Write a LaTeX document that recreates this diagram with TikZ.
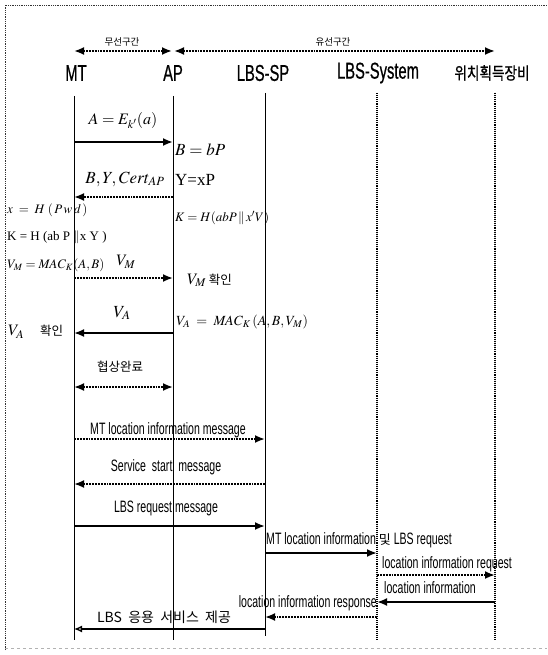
\documentclass[tikz,border=0pt]{standalone}
\usepackage{mathptmx}
\usepackage{fontspec}
\setmainfont{Liberation Serif}
\newfontfamily\cond[FakeStretch=0.64]{Liberation Sans}
\newfontfamily\condb[FakeStretch=0.64,FakeBold=0.6]{Liberation Sans}
\newfontfamily\kor{Noto Sans CJK KR}
\newfontfamily\korc[FakeStretch=0.8,FakeBold=0.8]{Noto Sans CJK KR}
\usetikzlibrary{arrows.meta}
\tikzset{
  hdr/.style={font=\fontsize{23}{24}\condb, inner sep=0pt},
  hdrk/.style={font=\fontsize{17}{18}\korc, inner sep=0pt},
  zone/.style={font=\fontsize{9.5}{10}\kor, inner sep=0pt},
  msg/.style={font=\fontsize{16.5}{18}\cond, inner sep=0pt},
  eq/.style={font=\fontsize{16}{18}\selectfont, inner sep=0pt},
  kr/.style={font=\fontsize{12.5}{14}\kor, inner sep=0pt},
  life/.style={line width=1pt},
  lifedot/.style={line width=1.1pt, densely dotted},
  tipA/.tip={Latex[length=10pt,width=8pt]},
  solidmsg/.style={line width=1.9pt, -tipA},
  dotmsg/.style={line width=1.9pt, densely dotted, -tipA},
  thinmsg/.style={line width=1.2pt, -{Latex[length=8pt,width=7pt,open,line width=1.3pt]}},
  zonearr/.style={line width=1.9pt, densely dotted, tipA-tipA},
  frameln/.style={line width=0.8pt, densely dotted, black!80},
}
\begin{document}
\begin{tikzpicture}[x=1pt,y=-1pt]
\useasboundingbox (0,0) rectangle (547,655);

% outer frame
\coordinate (f1) at (5,650);
\coordinate (f2) at (5,5);
\coordinate (f3) at (547,5);
\coordinate (f4) at (547,648);
\coordinate (f5) at (5,648);
\draw[frameln] (f1) -- (f2) -- (f3);
\draw[line width=0.8pt, dashed, black!30] (f5) -- (f4);

% lifeline heads
\coordinate (MT)  at (74,96);
\coordinate (AP)  at (173,96);
\coordinate (SP)  at (265,93);
\coordinate (SYS) at (377,93);
\coordinate (LOC) at (495,93);
\coordinate (MTe)  at (74,640);
\coordinate (APe)  at (173,640);
\coordinate (SPe)  at (265,636);
\coordinate (SYSe) at (377,640);
\coordinate (LOCe) at (495,640);

\draw[life] (MT) -- (MTe);
\draw[life] (AP) -- (APe);
\draw[life] (SP) -- (SPe);
\draw[lifedot] (SYS) -- (SYSe);
\draw[lifedot] (LOC) -- (LOCe);

% participant names
\node[hdr]  (hMT)  at (76,73)  {MT};
\node[hdr]  (hAP)  at (173,73) {AP};
\node[hdr]  (hSP)  at (263,73) {LBS-SP};
\node[hdr]  (hSYS) at (378,73) {LBS-System};
\node[hdrk] (hLOC) at (492,73) {위치획득장비};

% wireless / wired sections
\coordinate (zw1) at (74,51);
\coordinate (zw2) at (172,51);
\coordinate (zc1) at (174,51);
\coordinate (zc2) at (495,51);
\draw[zonearr] (zw1) -- (zw2);
\draw[zonearr] (zc1) -- (zc2);
\node[zone] (zwl) at (122,42) {무선구간};
\node[zone] (zcl) at (333,42) {유선구간};

% message rows
\coordinate (r1)  at (0,142);
\coordinate (r2)  at (0,197);
\coordinate (r3)  at (0,278);
\coordinate (r4)  at (0,333);
\coordinate (r5)  at (0,387);
\coordinate (r6)  at (0,439);
\coordinate (r7)  at (0,484);
\coordinate (r8)  at (0,526);
\coordinate (r9)  at (0,553);
\coordinate (r10) at (0,575);
\coordinate (r11) at (0,602);
\coordinate (r12) at (0,617);
\coordinate (r13) at (0,629);

% key agreement between MT and AP
\node[eq] (m1) at (123,121) {$A = E_{k'}(a)$};
\draw[solidmsg] (MT |- r1) -- (AP |- r1);
\node[eq, anchor=west, font=\fontsize{17}{18}\selectfont] (bP) at (175,150) {$B = bP$};

\node[eq, font=\fontsize{17}{18}\selectfont] (m2) at (125,179) {$B, Y, \mathit{Cert}_{\mathit{AP}}$};
\node[eq, anchor=west, font=\fontsize{17}{18}\selectfont] (yP) at (175,180) {Y=xP};
\draw[dotmsg] (AP |- r2) -- (MT |- r2);
\node[eq, anchor=west, font=\fontsize{13}{14}\selectfont] (kAP) at (175,218) {$K = H(abP\,\|\,x'V)$};
\node[eq, anchor=west, font=\fontsize{13}{14}\selectfont] (xPw) at (7,210) {$x\;=\;H\;(\,P\,w\,d\,)$};
\node[eq, anchor=west, font=\fontsize{13}{14}\selectfont] (kMT) at (7,237) {K = H (ab P $\|$x Y )};

\node[eq, anchor=west, font=\fontsize{13}{14}\selectfont] (vM) at (7,265) {$V_{M} = \mathit{MAC}_K(A,B)$};
\node[eq] (m3) at (126,262) {$V_{M}$};
\draw[dotmsg] (MT |- r3) -- (AP |- r3);
\node[eq, anchor=west] (vMok) at (187,280) {$V_{M}$\,{\kor\fontsize{12.5}{14}\selectfont 확인}};

\node[eq, font=\fontsize{17}{18}\selectfont] (m4) at (122,313) {$V_{A}$};
\draw[solidmsg] (AP |- r4) -- (MT |- r4);
\node[eq, anchor=west, font=\fontsize{14}{16}\selectfont] (vA) at (176,322) {$V_{A}\;=\;\mathit{MAC}_K\,(A,B,V_{M})$};
\node[eq, anchor=west] (vAok) at (8,332) {$V_{A}$\quad{\kor\fontsize{12.5}{14}\selectfont 확인}};

\node[kr] (m5) at (120,367) {협상완료};
\draw[zonearr] (MT |- r5) -- (AP |- r5);

% service set-up
\node[msg] (m6) at (168,430) {MT location information message};
\draw[dotmsg] (MT |- r6) -- (SP |- r6);
\node[msg] (m7) at (166,467) {Service\ \ start\ \ message};
\draw[dotmsg] (SP |- r7) -- (MT |- r7);
\node[msg] (m8) at (166,508) {LBS request message};
\draw[solidmsg] (MT |- r8) -- (SP |- r8);

% location query
\node[msg, anchor=west] (m9) at (266,540) {MT location information {\kor\fontsize{13}{14}\selectfont 및} LBS request};
\draw[solidmsg] (SP |- r9) -- (SYS |- r9);
\node[msg, anchor=west] (m10) at (382,564) {location information request};
\draw[dotmsg] (SYS |- r10) -- (LOC |- r10);
\node[msg, anchor=west] (m11) at (384,588) {location information};
\draw[solidmsg] (LOC |- r11) -- (SYS |- r11);
\node[msg, anchor=east] (m12) at (377,603) {location information response};
\draw[dotmsg] (SYS |- r12) -- (SP |- r12);
\node[kr, font=\fontsize{14}{16}\kor] (m13) at (164,617) {LBS\ \ 응용\ \ 서비스\ \ 제공};
\draw[thinmsg] (SP |- r13) -- (MT |- r13);
\end{tikzpicture}
\end{document}
